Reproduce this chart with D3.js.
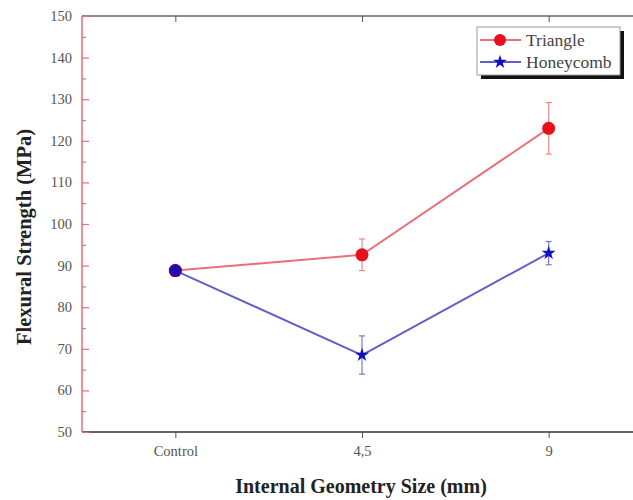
<!DOCTYPE html>
<html><head><meta charset="utf-8">
<script src="https://cdn.jsdelivr.net/npm/d3@7/dist/d3.min.js"></script>
<style>body{margin:0;background:#fff}svg{display:block}</style>
</head><body>
<svg id="c" width="633" height="500"></svg>
<script>
const categories = ["Control", "4,5", "9"];
const triangle = [88.8, 92.6, 123.0];
const triangleErr = [0.8, 3.8, 6.2];
const honeycomb = [88.8, 68.5, 93.0];
const honeycombErr = [1.0, 4.6, 2.8];
const yTicks = [50, 60, 70, 80, 90, 100, 110, 120, 130, 140, 150];

const svg = d3.select("#c");
const padL = 82, padT = 16, padB = 432;
const x = d3.scaleLinear().domain([-0.5, 2.5]).range([padL, 642]);
const y = d3.scaleLinear().domain([50, 150]).range([padB, padT]);
const font = "'Liberation Serif','Times New Roman',serif";

// top & bottom frame lines
svg.append("line").attr("x1", padL).attr("x2", 633).attr("y1", padT).attr("y2", padT)
  .attr("stroke", "#666").attr("stroke-width", 1.5);
svg.append("line").attr("x1", padL).attr("x2", 633).attr("y1", padB).attr("y2", padB)
  .attr("stroke", "#666").attr("stroke-width", 2);

// left axis (red)
const ya = svg.append("g").attr("transform", `translate(${padL},0)`)
  .call(d3.axisRight(y).tickValues(d3.range(55, 150, 10)).tickSize(4).tickFormat(""));
ya.append("g").call(d3.axisRight(y).tickValues(yTicks).tickSize(7).tickFormat(""));
ya.selectAll("path").attr("stroke", "none");
ya.selectAll("line").attr("stroke", "#e0707a").attr("stroke-width", 1.2);
svg.append("line").attr("x1", padL).attr("x2", padL).attr("y1", padT).attr("y2", padB)
  .attr("stroke", "#e0707a").attr("stroke-width", 1.5);
svg.append("g").selectAll("text").data(yTicks).join("text")
  .attr("x", padL - 10).attr("y", d => y(d) + 5).attr("text-anchor", "end")
  .attr("font-family", font).attr("font-size", 14.5).attr("fill", "#555").text(d => d);

// x ticks (bottom outward, top inward)
const xa = svg.append("g").attr("transform", `translate(0,${padB})`)
  .call(d3.axisBottom(x).tickValues([0, 1, 2]).tickSize(6).tickFormat(i => categories[i]));
xa.select("path").remove();
xa.selectAll("line").attr("stroke", "#555");
xa.selectAll("text").attr("font-family", font).attr("font-size", 14.5).attr("fill", "#555").attr("dy", "1.0em");
const xt = svg.append("g").attr("transform", `translate(0,${padT})`)
  .call(d3.axisBottom(x).tickValues([0, 1, 2]).tickSize(6).tickFormat(""));
xt.select("path").remove();
xt.selectAll("line").attr("stroke", "#555");

// axis titles
svg.append("text").attr("x", 361).attr("y", 493).attr("text-anchor", "middle")
  .attr("font-family", font).attr("font-weight", "bold").attr("font-size", 20).attr("fill", "#222")
  .text("Internal Geometry Size (mm)");
svg.append("text").attr("transform", "translate(31,237) rotate(-90)").attr("text-anchor", "middle")
  .attr("font-family", font).attr("font-weight", "bold").attr("font-size", 20.5).attr("fill", "#222")
  .text("Flexural Strength (MPa)");

const series = [
  {vals: triangle, err: triangleErr, line: "#e8707a", err_c: "#e88"},
  {vals: honeycomb, err: honeycombErr, line: "#6060c8", err_c: "#77c"}
];
const line = d3.line().x((d, i) => x(i)).y(d => y(d));
series.forEach(s => {
  svg.append("path").attr("d", line(s.vals)).attr("fill", "none")
    .attr("stroke", s.line).attr("stroke-width", 2);
  const g = svg.append("g");
  s.vals.forEach((v, i) => {
    const e = s.err[i], cx = x(i);
    g.append("line").attr("x1", cx).attr("x2", cx).attr("y1", y(v + e)).attr("y2", y(v - e))
      .attr("stroke", s.err_c).attr("stroke-width", 1.2);
    [v + e, v - e].forEach(t => g.append("line").attr("x1", cx - 3).attr("x2", cx + 3)
      .attr("y1", y(t)).attr("y2", y(t)).attr("stroke", s.err_c).attr("stroke-width", 1.2));
  });
});
// markers
svg.append("g").selectAll("circle").data(triangle).join("circle")
  .attr("cx", (d, i) => x(i)).attr("cy", d => y(d)).attr("r", 6.5).attr("fill", "#e8101a");
// purple blend at overlap
svg.append("g").selectAll("circle").data(honeycomb.filter((d, i) => Math.abs(d - triangle[i]) < 1))
  .join("circle").attr("cx", x(0)).attr("cy", d => y(d)).attr("r", 6.5)
  .attr("fill", "#2000b0").attr("fill-opacity", 0.8);
const star = d3.symbol().type(d3.symbolStar).size(60);
svg.append("g").selectAll("path").data(honeycomb).join("path")
  .attr("d", star).attr("transform", (d, i) => `translate(${x(i)},${y(d)})`)
  .attr("fill", "#1010c0");

// legend
const lg = svg.append("g");
lg.append("rect").attr("x", 481).attr("y", 31).attr("width", 143).attr("height", 48).attr("fill", "#111");
lg.append("rect").attr("x", 477).attr("y", 27).attr("width", 143).attr("height", 48)
  .attr("fill", "#fff").attr("stroke", "#999").attr("stroke-width", 1);
const items = [{n: "Triangle", c: "#e8707a", f: "#e8101a", m: "circle"}, {n: "Honeycomb", c: "#6060c8", f: "#1010c0", m: "star"}];
items.forEach((it, i) => {
  const yy = 40 + i * 22;
  lg.append("line").attr("x1", 480).attr("x2", 521).attr("y1", yy).attr("y2", yy)
    .attr("stroke", it.c).attr("stroke-width", 2);
  if (it.m === "circle") lg.append("circle").attr("cx", 500).attr("cy", yy).attr("r", 6).attr("fill", it.f);
  else lg.append("path").attr("d", d3.symbol().type(d3.symbolStar).size(60)).attr("transform", `translate(500,${yy})`).attr("fill", it.f);
  lg.append("text").attr("x", 526).attr("y", yy + 6).attr("font-family", font).attr("font-size", 17.5)
    .attr("fill", "#444").text(it.n);
});
</script>
</body></html>
